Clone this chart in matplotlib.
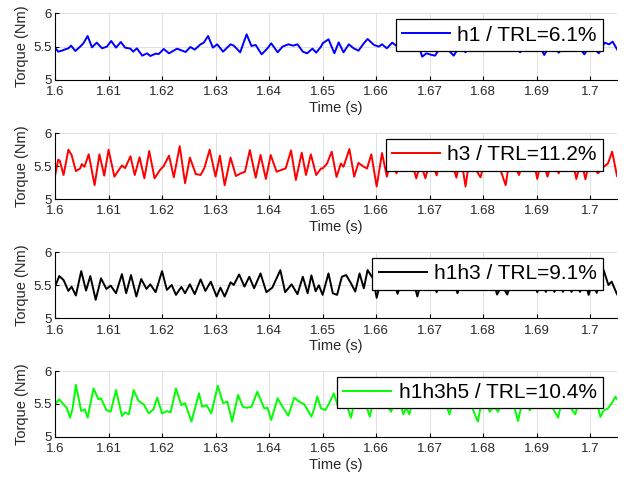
import matplotlib.pyplot as plt

plt.rcParams['font.family'] = ['Liberation Sans', 'DejaVu Sans']

# time (s) and torque (Nm), one pair per harmonic set
t_h1 = [1.6000, 1.6006, 1.6013, 1.6019, 1.6025, 1.6030, 1.6038, 1.6047, 1.6053, 1.6061,
        1.6069, 1.6078, 1.6088, 1.6097, 1.6105, 1.6114, 1.6123, 1.6131, 1.6141, 1.6146,
        1.6153, 1.6163, 1.6172, 1.6178, 1.6188, 1.6194, 1.6203, 1.6213, 1.6228, 1.6244,
        1.6253, 1.6261, 1.6272, 1.6278, 1.6286, 1.6295, 1.6303, 1.6314, 1.6328, 1.6334,
        1.6346, 1.6358, 1.6367, 1.6375, 1.6386, 1.6397, 1.6404, 1.6416, 1.6425, 1.6436,
        1.6445, 1.6453, 1.6463, 1.6471, 1.6481, 1.6488, 1.6497, 1.6500, 1.6511, 1.6522,
        1.6530, 1.6539, 1.6549, 1.6558, 1.6567, 1.6577, 1.6584, 1.6596, 1.6605, 1.6611,
        1.6620, 1.6630, 1.6640, 1.6650, 1.6658, 1.6668, 1.6678, 1.6686, 1.6694, 1.6702,
        1.6710, 1.6718, 1.6727, 1.6736, 1.6745, 1.6753, 1.6760, 1.6767, 1.6776, 1.6786,
        1.6796, 1.6806, 1.6817, 1.6826, 1.6836, 1.6846, 1.6856, 1.6869, 1.6880, 1.6892,
        1.6903, 1.6914, 1.6923, 1.6932, 1.6941, 1.6952, 1.6962, 1.6972, 1.6981, 1.6989,
        1.6998, 1.7008, 1.7016, 1.7027, 1.7035, 1.7042, 1.7050]
v_h1 = [5.485, 5.425, 5.44, 5.46, 5.475, 5.515, 5.435, 5.50, 5.55, 5.66,
        5.49, 5.56, 5.475, 5.50, 5.585, 5.485, 5.57, 5.485, 5.47, 5.425,
        5.475, 5.365, 5.40, 5.36, 5.395, 5.39, 5.465, 5.40, 5.47, 5.42,
        5.495, 5.455, 5.535, 5.56, 5.66, 5.485, 5.535, 5.425, 5.535, 5.515,
        5.415, 5.685, 5.51, 5.525, 5.385, 5.475, 5.55, 5.415, 5.50, 5.535,
        5.515, 5.535, 5.425, 5.40, 5.47, 5.41, 5.50, 5.55, 5.61, 5.40,
        5.565, 5.415, 5.535, 5.475, 5.44, 5.55, 5.615, 5.525, 5.50, 5.535,
        5.475, 5.56, 5.50, 5.45, 5.52, 5.46, 5.55, 5.35, 5.40, 5.38,
        5.365, 5.46, 5.50, 5.44, 5.365, 5.47, 5.52, 5.415, 5.50, 5.54,
        5.47, 5.52, 5.44, 5.44, 5.53, 5.48, 5.55, 5.415, 5.52, 5.47,
        5.55, 5.375, 5.50, 5.52, 5.41, 5.50, 5.46, 5.55, 5.47, 5.385,
        5.50, 5.47, 5.40, 5.56, 5.535, 5.575, 5.46]

t_h3 = [1.6000, 1.6006, 1.6009, 1.6016, 1.6025, 1.6031, 1.6039, 1.6047, 1.6050, 1.6055,
        1.6063, 1.6074, 1.6083, 1.6092, 1.6100, 1.6111, 1.6117, 1.6125, 1.6131, 1.6141,
        1.6149, 1.6158, 1.6167, 1.6176, 1.6186, 1.6196, 1.6203, 1.6213, 1.6222, 1.6233,
        1.6243, 1.6252, 1.6263, 1.6272, 1.6279, 1.6289, 1.6300, 1.6308, 1.6317, 1.6328,
        1.6338, 1.6347, 1.6355, 1.6364, 1.6375, 1.6384, 1.6394, 1.6403, 1.6414, 1.6422,
        1.6431, 1.6441, 1.6450, 1.6461, 1.6469, 1.6478, 1.6488, 1.6497, 1.6500, 1.6508,
        1.6517, 1.6526, 1.6534, 1.6539, 1.6550, 1.6559, 1.6567, 1.6577, 1.6583, 1.6591,
        1.6601, 1.6611, 1.6620, 1.6629, 1.6638, 1.6647, 1.6656, 1.6665, 1.6675, 1.6683,
        1.6692, 1.6702, 1.6713, 1.6722, 1.6731, 1.6740, 1.6750, 1.6758, 1.6767, 1.6776,
        1.6786, 1.6795, 1.6804, 1.6814, 1.6823, 1.6832, 1.6842, 1.6851, 1.6859, 1.6867,
        1.6876, 1.6885, 1.6893, 1.6901, 1.6910, 1.6920, 1.6930, 1.6941, 1.6950, 1.6958,
        1.6966, 1.6974, 1.6983, 1.6991, 1.7000, 1.7008, 1.7014, 1.7025, 1.7033, 1.7041,
        1.7050]
v_h3 = [5.35, 5.60, 5.58, 5.365, 5.75, 5.67, 5.425, 5.465, 5.53, 5.49,
        5.68, 5.21, 5.68, 5.355, 5.75, 5.34, 5.415, 5.51, 5.47, 5.65,
        5.365, 5.635, 5.315, 5.73, 5.315, 5.44, 5.50, 5.66, 5.33, 5.805,
        5.24, 5.63, 5.38, 5.365, 5.47, 5.75, 5.34, 5.66, 5.21, 5.63,
        5.35, 5.39, 5.415, 5.745, 5.325, 5.67, 5.305, 5.67, 5.415, 5.44,
        5.465, 5.74, 5.29, 5.705, 5.365, 5.68, 5.365, 5.465, 5.465, 5.535,
        5.72, 5.335, 5.54, 5.49, 5.76, 5.34, 5.55, 5.49, 5.465, 5.68,
        5.19, 5.70, 5.34, 5.65, 5.39, 5.62, 5.45, 5.60, 5.315, 5.55,
        5.315, 5.62, 5.36, 5.65, 5.46, 5.60, 5.325, 5.66, 5.19, 5.70,
        5.45, 5.33, 5.62, 5.48, 5.66, 5.45, 5.21, 5.70, 5.50, 5.365,
        5.62, 5.48, 5.63, 5.305, 5.65, 5.34, 5.62, 5.39, 5.60, 5.47,
        5.62, 5.305, 5.60, 5.30, 5.62, 5.48, 5.39, 5.49, 5.54, 5.72,
        5.35]

t_h1h3 = [1.6000, 1.6008, 1.6016, 1.6025, 1.6031, 1.6039, 1.6049, 1.6058, 1.6066, 1.6076,
          1.6086, 1.6096, 1.6104, 1.6114, 1.6125, 1.6133, 1.6142, 1.6152, 1.6161, 1.6171,
          1.6178, 1.6188, 1.6200, 1.6209, 1.6218, 1.6226, 1.6236, 1.6243, 1.6252, 1.6261,
          1.6272, 1.6281, 1.6291, 1.6302, 1.6309, 1.6317, 1.6328, 1.6334, 1.6344, 1.6354,
          1.6363, 1.6372, 1.6384, 1.6395, 1.6406, 1.6421, 1.6430, 1.6442, 1.6453, 1.6463,
          1.6472, 1.6479, 1.6487, 1.6493, 1.6500, 1.6511, 1.6519, 1.6527, 1.6536, 1.6544,
          1.6553, 1.6561, 1.6569, 1.6577, 1.6584, 1.6594, 1.6601, 1.6610, 1.6620, 1.6630,
          1.6640, 1.6650, 1.6660, 1.6668, 1.6677, 1.6686, 1.6695, 1.6704, 1.6713, 1.6722,
          1.6732, 1.6742, 1.6752, 1.6761, 1.6771, 1.6781, 1.6791, 1.6800, 1.6810, 1.6818,
          1.6826, 1.6835, 1.6845, 1.6855, 1.6865, 1.6875, 1.6885, 1.6893, 1.6901, 1.6909,
          1.6917, 1.6925, 1.6933, 1.6941, 1.6949, 1.6957, 1.6965, 1.6973, 1.6981, 1.6989,
          1.6997, 1.7005, 1.7012, 1.7025, 1.7034, 1.7040, 1.7050]
v_h1h3 = [5.48, 5.64, 5.58, 5.415, 5.48, 5.345, 5.715, 5.42, 5.64, 5.28,
          5.605, 5.445, 5.495, 5.38, 5.67, 5.38, 5.655, 5.33, 5.595, 5.445,
          5.515, 5.395, 5.715, 5.43, 5.505, 5.355, 5.475, 5.38, 5.515, 5.365,
          5.59, 5.415, 5.555, 5.33, 5.465, 5.33, 5.545, 5.505, 5.665, 5.48,
          5.63, 5.455, 5.68, 5.395, 5.465, 5.73, 5.395, 5.515, 5.365, 5.63,
          5.38, 5.65, 5.41, 5.50, 5.355, 5.68, 5.38, 5.355, 5.63, 5.655,
          5.53, 5.405, 5.68, 5.455, 5.73, 5.605, 5.31, 5.62, 5.48, 5.66,
          5.37, 5.60, 5.46, 5.62, 5.33, 5.62, 5.47, 5.60, 5.395, 5.64,
          5.48, 5.62, 5.38, 5.60, 5.46, 5.62, 5.47, 5.63, 5.45, 5.58,
          5.36, 5.50, 5.36, 5.62, 5.47, 5.60, 5.46, 5.62, 5.395, 5.58,
          5.40, 5.60, 5.40, 5.60, 5.40, 5.60, 5.40, 5.58, 5.40, 5.60,
          5.355, 5.58, 5.385, 5.73, 5.505, 5.555, 5.365]

t_h1h3h5 = [1.6000, 1.6008, 1.6016, 1.6022, 1.6028, 1.6033, 1.6039, 1.6049, 1.6056, 1.6061,
            1.6072, 1.6081, 1.6086, 1.6096, 1.6104, 1.6114, 1.6125, 1.6131, 1.6138, 1.6147,
            1.6156, 1.6166, 1.6175, 1.6184, 1.6191, 1.6200, 1.6209, 1.6216, 1.6226, 1.6236,
            1.6243, 1.6255, 1.6269, 1.6275, 1.6283, 1.6292, 1.6304, 1.6314, 1.6322, 1.6331,
            1.6342, 1.6351, 1.6358, 1.6367, 1.6378, 1.6391, 1.6397, 1.6404, 1.6416, 1.6425,
            1.6436, 1.6447, 1.6456, 1.6466, 1.6479, 1.6484, 1.6490, 1.6497, 1.6505, 1.6511,
            1.6521, 1.6528, 1.6536, 1.6545, 1.6553, 1.6562, 1.6570, 1.6579, 1.6588, 1.6598,
            1.6607, 1.6616, 1.6628, 1.6638, 1.6645, 1.6651, 1.6656, 1.6662, 1.6672, 1.6682,
            1.6692, 1.6702, 1.6712, 1.6722, 1.6728, 1.6737, 1.6748, 1.6758, 1.6768, 1.6779,
            1.6790, 1.6800, 1.6808, 1.6812, 1.6820, 1.6828, 1.6838, 1.6848, 1.6856, 1.6865,
            1.6876, 1.6887, 1.6898, 1.6908, 1.6918, 1.6928, 1.6940, 1.6950, 1.6960, 1.6972,
            1.6982, 1.6992, 1.7000, 1.7010, 1.7019, 1.7025, 1.7033, 1.7041, 1.7047, 1.7050]
v_h1h3h5 = [5.49, 5.57, 5.49, 5.44, 5.29, 5.43, 5.79, 5.39, 5.415, 5.29,
            5.735, 5.57, 5.585, 5.405, 5.38, 5.71, 5.315, 5.37, 5.34, 5.71,
            5.545, 5.49, 5.355, 5.415, 5.595, 5.355, 5.39, 5.37, 5.735, 5.48,
            5.51, 5.23, 5.66, 5.455, 5.48, 5.355, 5.775, 5.51, 5.535, 5.23,
            5.635, 5.455, 5.44, 5.455, 5.685, 5.43, 5.44, 5.255, 5.585, 5.455,
            5.32, 5.595, 5.535, 5.49, 5.305, 5.42, 5.61, 5.43, 5.405, 5.49,
            5.66, 5.48, 5.58, 5.48, 5.29, 5.62, 5.45, 5.55, 5.305, 5.66,
            5.47, 5.52, 5.38, 5.62, 5.50, 5.34, 5.45, 5.34, 5.68, 5.48,
            5.56, 5.46, 5.62, 5.50, 5.55, 5.34, 5.70, 5.48, 5.62, 5.45,
            5.23, 5.66, 5.50, 5.38, 5.46, 5.38, 5.64, 5.49, 5.52, 5.24,
            5.62, 5.40, 5.60, 5.46, 5.56, 5.46, 5.29, 5.66, 5.48, 5.34,
            5.62, 5.47, 5.50, 5.60, 5.30, 5.40, 5.43, 5.52, 5.61, 5.57]

labels = ['h1 / TRL=6.1%', 'h3 / TRL=11.2%', 'h1h3 / TRL=9.1%', 'h1h3h5 / TRL=10.4%']
colors = ['#0000ff', '#ff0000', '#000000', '#00ff00']
series = [(t_h1, v_h1), (t_h3, v_h3), (t_h1h3, v_h1h3), (t_h1h3h5, v_h1h3h5)]

xticks = [1.6, 1.61, 1.62, 1.63, 1.64, 1.65, 1.66, 1.67, 1.68, 1.69, 1.7]
xticklabels = ['1.6', '1.61', '1.62', '1.63', '1.64', '1.65', '1.66', '1.67', '1.68', '1.69', '1.7']
yticks = [5, 5.5, 6]
yticklabels = ['5', '5.5', '6']

W, H = 629, 478
fig = plt.figure(figsize=(W / 100, H / 100), dpi=100)

# axes boxes in pixels: (top, bottom)
boxes = [(13.3, 80.0), (133.3, 199.0), (252.3, 318.3), (371.0, 436.7)]
left, right = 55, 617

for (t, v), lab, col, (top, bot) in zip(series, labels, colors, boxes):
    ax = fig.add_axes([left / W, 1 - bot / H, (right - left) / W, (bot - top) / H])
    ax.plot(t, v, color=col, lw=1.4, label=lab)
    ax.set_xlim(1.6, 1.705)
    ax.set_ylim(5, 6)
    ax.set_xticks(xticks)
    ax.set_xticklabels(xticklabels)
    ax.set_yticks(yticks)
    ax.set_yticklabels(yticklabels)
    ax.grid(True, color='#dcdcdc', lw=0.6)
    ax.set_axisbelow(True)
    ax.spines['top'].set_visible(False)
    ax.spines['right'].set_visible(False)
    ax.spines['left'].set_linewidth(0.8)
    ax.spines['bottom'].set_linewidth(0.8)
    ax.tick_params(direction='in', length=3, width=0.8, labelsize=9.5,
                   labelcolor='#262626')
    ax.tick_params(axis='x', pad=4.5)
    ax.tick_params(axis='y', pad=2.5)
    ax.set_xlabel('Time (s)', fontsize=10.5, color='#262626', labelpad=2)
    ax.set_ylabel('Torque (Nm)', fontsize=10.5, color='#262626', labelpad=3)
    leg = ax.legend(loc='upper right', bbox_to_anchor=(0.975, 0.91), borderaxespad=0,
                    fontsize=15, frameon=True, fancybox=False, framealpha=1,
                    handlelength=2.3, handletextpad=0.35, borderpad=0.3)
    leg.get_frame().set_edgecolor('black')
    leg.get_frame().set_linewidth(0.9)

fig.savefig('out.png', dpi=100)
